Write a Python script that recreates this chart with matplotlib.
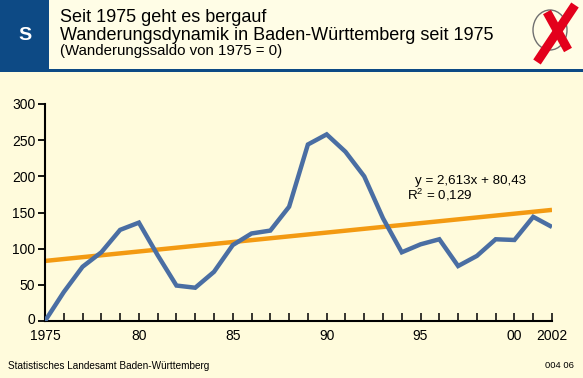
#!/usr/bin/env python3
"""
Wanderungsdynamik Baden-Württemberg 1975-2002 (Saldo 1975 = 0) mit linearem Trend.
"""

import matplotlib
matplotlib.use('Agg')
import matplotlib.pyplot as plt
import matplotlib.transforms as mtrans
from matplotlib.patches import Rectangle, Ellipse
from matplotlib.lines import Line2D

# ── Daten ──
years = list(range(1975, 2003))
saldo = [0, 40, 75, 95, 126, 136, 91, 49, 46, 68, 105, 121, 125, 158,
         244, 258, 234, 200, 142, 95, 106, 113, 76, 90, 113, 112, 144, 130]
trend_slope = 2.613
trend_intercept = 80.43
yticks = [0, 50, 100, 150, 200, 250, 300]
xtick_pos = [1975, 1980, 1985, 1990, 1995, 2000, 2002]
xtick_labels = ['1975', '80', '85', '90', '95', '00', '2002']

title1 = 'Seit 1975 geht es bergauf'
title2 = 'Wanderungsdynamik in Baden-Württemberg seit 1975'
title3 = '(Wanderungssaldo von 1975 = 0)'
eq_text = 'y = 2,613x + 80,43'
r2_text = 'R$^2$ = 0,129'
source = 'Statistisches Landesamt Baden-Württemberg'
code = '004 06'

# ── Farben ──
BG = '#fffbdc'
HEAD_BG = '#fffde6'
DARKBLUE = '#0d4a85'
LINEBLUE = '#4a6ea3'
ORANGE = '#f39a12'
RED = '#e3001b'

plt.rcParams['font.family'] = ['Liberation Sans', 'DejaVu Sans']
plt.rcParams['mathtext.fontset'] = 'custom'
plt.rcParams['mathtext.rm'] = 'Liberation Sans'

W, H = 583, 378
fig = plt.figure(figsize=(W / 100, H / 100), dpi=100, facecolor=BG)


def fx(px):
    return px / W


def fy(py):
    return 1 - py / H


# ── Kopfzeile ──
fig.add_artist(Rectangle((0, fy(69)), 1, 69 / H, transform=fig.transFigure,
                         facecolor=HEAD_BG, edgecolor='none', zorder=0))
fig.add_artist(Rectangle((0, fy(69)), fx(49), 69 / H, transform=fig.transFigure,
                         facecolor=DARKBLUE, edgecolor='none', zorder=1))
fig.add_artist(Rectangle((0, fy(71.5)), 1, 2.5 / H, transform=fig.transFigure,
                         facecolor=DARKBLUE, edgecolor='none', zorder=1))
fig.text(fx(25), fy(36), 'S', color='white', fontsize=14, fontweight='bold',
         ha='center', va='center')
fig.text(fx(60), fy(17), title1, fontsize=13, va='center')
fig.text(fx(60), fy(35), title2, fontsize=13, va='center')
fig.text(fx(60), fy(51), title3, fontsize=10.8, va='center')

# Wahlkreuz-Symbol
fig.add_artist(Ellipse((fx(550), fy(30)), 34 / W, 40 / H,
                       transform=fig.transFigure, facecolor='none',
                       edgecolor='#707070', linewidth=1.0, zorder=2))
fig.add_artist(Line2D([fx(575), fx(537)], [fy(5), fy(62)],
                      transform=fig.transFigure, color=RED, linewidth=6.5,
                      solid_capstyle='butt', zorder=3))
fig.add_artist(Line2D([fx(547), fx(568)], [fy(12), fy(50)],
                      transform=fig.transFigure, color=RED, linewidth=6.5,
                      solid_capstyle='butt', zorder=3))

# ── Diagramm ──
ax = fig.add_axes([fx(45), fy(321), fx(552) - fx(45), (321 - 104) / H])
ax.set_facecolor('none')

trend = [trend_intercept + trend_slope * (i + 1) for i in range(len(years))]
ax.plot(years, trend, color=ORANGE, linewidth=3.2, solid_capstyle='butt',
        zorder=2)
ax.plot(years, saldo, color=LINEBLUE, linewidth=3.2, solid_joinstyle='miter',
        solid_capstyle='butt', zorder=3)

ax.set_xlim(1975, 2002)
ax.set_ylim(0, 300)
ax.set_yticks(yticks)
ax.set_xticks(years)
ax.set_xticklabels([xtick_labels[xtick_pos.index(y)] if y in xtick_pos else ''
                    for y in years])

for s in ['top', 'right']:
    ax.spines[s].set_visible(False)
for s in ['left', 'bottom']:
    ax.spines[s].set_linewidth(1.5)
    ax.spines[s].set_color('black')

ax.tick_params(axis='y', direction='out', length=5, width=1.3, pad=2,
               labelsize=10)
ax.tick_params(axis='x', direction='in', length=6, width=1.1, pad=6,
               labelsize=10)

# "0" etwas anheben, damit es nicht mit "1975" kollidiert
lab0 = ax.get_yticklabels()[0]
lab0.set_transform(lab0.get_transform() +
                   mtrans.ScaledTranslation(0, 2 / 72, fig.dpi_scale_trans))

ax.text(1994.7, 194, eq_text, fontsize=9.6, ha='left', va='center')
ax.text(1994.3, 175, r2_text, fontsize=9.6, ha='left', va='center')

# ── Fußzeile ──
fig.text(fx(8), fy(366), source, fontsize=7.2, va='center')
fig.text(fx(574), fy(365), code, fontsize=6.8, ha='right', va='center')

fig.savefig('out.png', dpi=100, facecolor=BG)
